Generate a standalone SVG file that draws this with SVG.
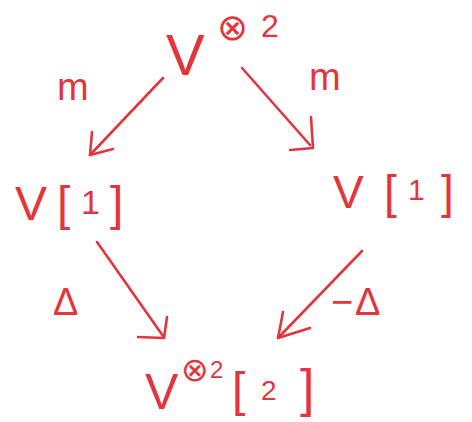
<svg xmlns="http://www.w3.org/2000/svg" width="472" height="422" viewBox="0 0 472 422">
<style>
.t{font-family:"Liberation Sans","DejaVu Sans",sans-serif;fill:#e2363d}
.o{font-family:"DejaVu Sans","Liberation Sans",sans-serif;fill:#e2363d}
.c{fill:none;stroke:#e2363d;stroke-width:2.6;stroke-linecap:round;stroke-linejoin:round}
</style>
<rect width="472" height="422" fill="#fff"/>
<g id="connectors">
<g id="e-top-left"><line class="c" x1="163" y1="78" x2="90" y2="155"/><polyline class="c" points="92,132 90,155 113,149"/></g>
<g id="e-top-right"><line class="c" x1="242" y1="68" x2="310" y2="145"/><polyline class="c" points="311,117 313,148 290,150"/></g>
<g id="e-left-bottom"><line class="c" x1="97" y1="242" x2="163" y2="336"/><polyline class="c" points="167,317 164,338 138,337"/></g>
<g id="e-right-bottom"><line class="c" x1="362" y1="251" x2="278" y2="338"/><polyline class="c" points="283,312 278,338 310,328"/></g>
<text class="t" x="57" y="100" font-size="38">m</text>
<text class="t" x="309" y="90" font-size="38">m</text>
<text class="t" x="53" y="315" font-size="38">Δ</text>
<text class="t" x="331 355" y="315" font-size="38">−Δ</text>
</g>
<g id="n-top">
<text class="t" x="166" y="75" font-size="58">V</text>
<text class="o" x="217" y="40" font-size="37">⊗</text>
<text class="t" x="261" y="37" font-size="32">2</text>
</g>
<g id="n-left">
<text class="t" y="220" font-size="48"><tspan x="15">V</tspan><tspan x="57">[</tspan><tspan x="81" font-size="34" dy="-6">1</tspan><tspan x="110" dy="6">]</tspan></text>
</g>
<g id="n-right">
<text class="t" y="208" font-size="46"><tspan x="333">V</tspan><tspan x="384">[</tspan><tspan x="408" font-size="30" dy="-8">1</tspan><tspan x="441" dy="8">]</tspan></text>
</g>
<g id="n-bottom">
<text class="t" y="409" font-size="50"><tspan x="145">V</tspan><tspan class="o" x="181" font-size="33" dy="-28">⊗</tspan><tspan x="210" font-size="24" dy="-3">2</tspan><tspan x="232" font-size="48" dy="28">[</tspan><tspan x="261" font-size="28" dy="-6">2</tspan><tspan x="300" font-size="52" dy="6">]</tspan></text>
</g>
</svg>
